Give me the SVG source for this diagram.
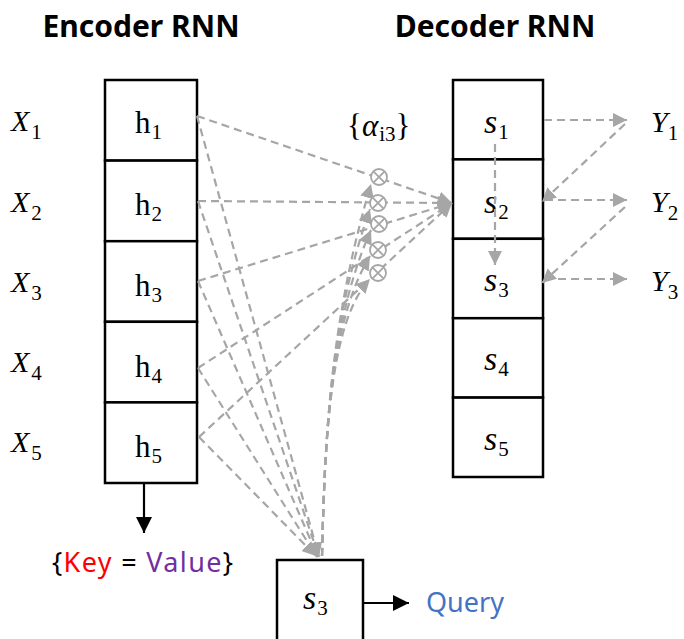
<svg xmlns="http://www.w3.org/2000/svg" width="684" height="639" viewBox="0 0 684 639">
  <style>
    .title { font-family: "Noto Sans", "Open Sans", sans-serif; font-weight: bold; font-size: 30px; fill: #000; }
    .mi { font-family: "Liberation Serif", "DejaVu Serif", serif; font-style: italic; font-size: 30px; fill: #000; }
    .mr { font-family: "Liberation Serif", "DejaVu Serif", serif; font-size: 31px; fill: #000; }
    .ms { font-family: "Liberation Serif", "DejaVu Serif", serif; font-style: italic; font-size: 34px; fill: #000; }
    .sub { font-style: normal; font-size: 21px; }
    .label { font-family: "Noto Sans", "Open Sans", sans-serif; font-size: 27px; }
    .cell { fill: #fff; stroke: #000; stroke-width: 2.5; }
    .dash { fill: none; stroke: #A6A6A6; stroke-width: 2.2; stroke-dasharray: 8 5; }
    .solid { fill: none; stroke: #000; stroke-width: 2.2; }
    .mul { fill: #fff; stroke: #A6A6A6; stroke-width: 1.8; }
  </style>
  <defs>
    <marker id="ga" markerUnits="userSpaceOnUse" markerWidth="16" markerHeight="14" refX="14" refY="7" orient="auto">
      <path d="M0,0 L14,7 L0,14 Z" fill="#A6A6A6"/>
    </marker>
    <marker id="ba" markerUnits="userSpaceOnUse" markerWidth="18" markerHeight="18" refX="16" refY="8" orient="auto">
      <path d="M0,0 L16,8 L0,16 Z" fill="#000"/>
    </marker>
    <g id="otimes">
      <circle r="8" class="mul"/>
      <path d="M-5.6,-5.6 L5.6,5.6 M-5.6,5.6 L5.6,-5.6" stroke="#A6A6A6" stroke-width="1.8"/>
    </g>
  </defs>

  <!-- headings -->
  <text class="title" x="141" y="37" text-anchor="middle">Encoder RNN</text>
  <text class="title" x="495" y="37" text-anchor="middle">Decoder RNN</text>

  <!-- inputs -->
  <g id="inputs">
    <text class="mi" x="11" y="131">X<tspan class="sub" dx="2" dy="8">1</tspan></text>
    <text class="mi" x="11" y="212">X<tspan class="sub" dx="2" dy="8">2</tspan></text>
    <text class="mi" x="11" y="292">X<tspan class="sub" dx="2" dy="8">3</tspan></text>
    <text class="mi" x="11" y="372">X<tspan class="sub" dx="2" dy="8">4</tspan></text>
    <text class="mi" x="11" y="452">X<tspan class="sub" dx="2" dy="8">5</tspan></text>
  </g>

  <!-- encoder column -->
  <g id="encoder">
    <rect class="cell" x="105" y="80" width="92" height="80.6"/>
    <rect class="cell" x="105" y="160.6" width="92" height="80.6"/>
    <rect class="cell" x="105" y="241.2" width="92" height="80.6"/>
    <rect class="cell" x="105" y="321.8" width="92" height="80.6"/>
    <rect class="cell" x="105" y="402.4" width="92" height="80.6"/>
    <text class="mr" x="135" y="133">h<tspan class="sub" dx="1" dy="6">1</tspan></text>
    <text class="mr" x="135" y="215">h<tspan class="sub" dx="1" dy="6">2</tspan></text>
    <text class="mr" x="135" y="296">h<tspan class="sub" dx="1" dy="6">3</tspan></text>
    <text class="mr" x="135" y="377">h<tspan class="sub" dx="1" dy="6">4</tspan></text>
    <text class="mr" x="135" y="457">h<tspan class="sub" dx="1" dy="6">5</tspan></text>
  </g>

  <!-- decoder column -->
  <g id="decoder">
    <rect class="cell" x="453" y="80" width="90" height="79.4"/>
    <rect class="cell" x="453" y="159.4" width="90" height="79.4"/>
    <rect class="cell" x="453" y="238.8" width="90" height="79.4"/>
    <rect class="cell" x="453" y="318.2" width="90" height="79.4"/>
    <rect class="cell" x="453" y="397.6" width="90" height="79.4"/>
    <text class="ms" x="484" y="133">s<tspan class="sub" dx="1" dy="6">1</tspan></text>
    <text class="ms" x="484" y="213">s<tspan class="sub" dx="1" dy="6">2</tspan></text>
    <text class="ms" x="484" y="291">s<tspan class="sub" dx="1" dy="6">3</tspan></text>
    <text class="ms" x="484" y="370">s<tspan class="sub" dx="1" dy="6">4</tspan></text>
    <text class="ms" x="484" y="450">s<tspan class="sub" dx="1" dy="6">5</tspan></text>
  </g>

  <!-- outputs -->
  <g id="outputs">
    <text class="mi" x="651" y="132">Y<tspan class="sub" dx="0" dy="8">1</tspan></text>
    <text class="mi" x="651" y="212">Y<tspan class="sub" dx="0" dy="8">2</tspan></text>
    <text class="mi" x="651" y="291">Y<tspan class="sub" dx="0" dy="8">3</tspan></text>
  </g>

  <!-- attention weights label -->
  <g id="alpha">
    <text class="mr" x="347" y="136">{<tspan font-style="italic">α</tspan><tspan class="sub" dx="1" dy="5">i3</tspan><tspan dy="-5">}</tspan></text>
  </g>

  <!-- query state -->
  <g id="query-state">
    <rect class="cell" x="277" y="560" width="86" height="95"/>
    <text class="ms" x="303" y="609">s<tspan class="sub" dx="1" dy="6">3</tspan></text>
  </g>

  <!-- key / value and query labels -->
  <g id="kv-label">
    <text class="label" x="52" y="572" textLength="181" lengthAdjust="spacing"><tspan fill="#000">{</tspan><tspan fill="#FF0000">Key</tspan><tspan fill="#000"> = </tspan><tspan fill="#7030A0">Value</tspan><tspan fill="#000">}</tspan></text>
  </g>
  <g id="query-label">
    <text class="label" x="426" y="612" fill="#4472C4">Query</text>
  </g>

  <!-- connectors -->
  <g id="connectors">
    <!-- encoder states to decoder state s2 through the weights -->
    <path class="dash" d="M197,116 L452,203" marker-end="url(#ga)"/>
    <path class="dash" d="M198,201 L452,203" marker-end="url(#ga)"/>
    <path class="dash" d="M198,281 L452,203" marker-end="url(#ga)"/>
    <path class="dash" d="M198,368 L452,203" marker-end="url(#ga)"/>
    <path class="dash" d="M199,437 L452,203" marker-end="url(#ga)"/>

    <!-- encoder states down to the query state -->
    <path class="dash" d="M197,116 L319,557" marker-end="url(#ga)"/>
    <path class="dash" d="M198,201 L319,557" marker-end="url(#ga)"/>
    <path class="dash" d="M198,281 L318,557" marker-end="url(#ga)"/>
    <path class="dash" d="M198,368 L317,557" marker-end="url(#ga)"/>
    <path class="dash" d="M199,437 L316,556" marker-end="url(#ga)"/>

    <!-- query state up to each weight -->
    <path class="dash" d="M322,556 C325,430 331,320 371,184" marker-end="url(#ga)"/>
    <path class="dash" d="M322,556 C325,430 331,320 370,209" marker-end="url(#ga)"/>
    <path class="dash" d="M322,556 C325,430 331,320 371,230" marker-end="url(#ga)"/>
    <path class="dash" d="M322,556 C325,430 331,320 370,256" marker-end="url(#ga)"/>
    <path class="dash" d="M322,556 C325,430 331,320 370,279" marker-end="url(#ga)"/>

    <!-- decoder recurrences and outputs -->
    <path class="dash" d="M495,144 L495,265" marker-end="url(#ga)"/>
    <path class="dash" d="M544,120 L627,120" marker-end="url(#ga)"/>
    <path class="dash" d="M625,124 L542,202" marker-end="url(#ga)"/>
    <path class="dash" d="M545,200 L627,200" marker-end="url(#ga)"/>
    <path class="dash" d="M625,207 L542,283" marker-end="url(#ga)"/>
    <path class="dash" d="M545,279 L627,279" marker-end="url(#ga)"/>

    <!-- solid arrows -->
    <path class="solid" d="M144,483 L144,533" marker-end="url(#ba)"/>
    <path class="solid" d="M363,603 L409,603" marker-end="url(#ba)"/>
  </g>

  <!-- weighting nodes -->
  <g id="weights">
    <use href="#otimes" x="379" y="177"/>
    <use href="#otimes" x="378" y="203"/>
    <use href="#otimes" x="379" y="224"/>
    <use href="#otimes" x="378" y="250"/>
    <use href="#otimes" x="378" y="273"/>
  </g>
</svg>
